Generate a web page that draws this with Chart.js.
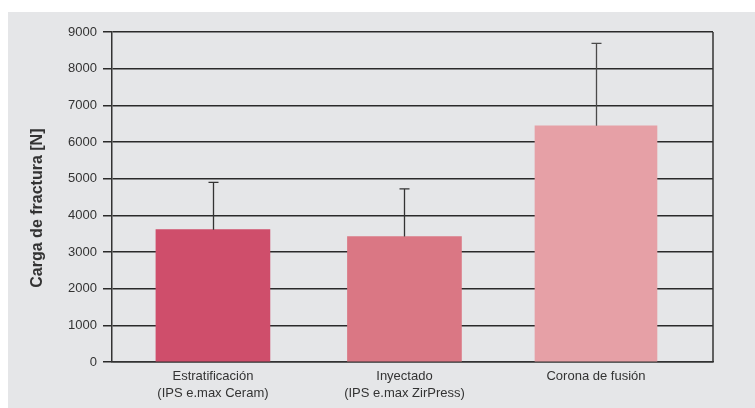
<!DOCTYPE html>
<html>
<head>
<meta charset="utf-8">
<script src="https://cdn.jsdelivr.net/npm/chart.js@4/dist/chart.umd.min.js"></script>
<style>
html,body{margin:0;padding:0;background:#fff;}
#wrap{position:absolute;left:0;top:0;width:755px;height:408px;}
</style>
</head>
<body>
<div id="wrap"><canvas id="c" width="755" height="408"></canvas></div>
<script>
// ---- data ----
const categories = [
  ["Estratificación", "(IPS e.max Ceram)"],
  ["Inyectado", "(IPS e.max ZirPress)"],
  ["Corona de fusión"]
];
const meanLoad = [3610, 3420, 6440];
const sdLoad = [1290, 1300, 2250];
const yTicks = [0, 1000, 2000, 3000, 4000, 5000, 6000, 7000, 8000, 9000];
const yTitle = "Carga de fractura [N]";

// ---- styles ----
const barColors = ["#cf4e6b", "#da7784", "#e6a0a6"];
const barWidths = [114, 114, 122];
const FONT = "'Liberation Sans', Arial, sans-serif";

const bgPlugin = {
  id: 'bg',
  beforeDraw(chart) {
    const ctx = chart.ctx;
    ctx.save();
    ctx.fillStyle = '#e5e6e8';
    ctx.fillRect(8, 12, chart.width - 8, chart.height - 12);
    ctx.restore();
  },
  afterDatasetsDraw(chart) {
    const ctx = chart.ctx;
    const xs = chart.scales.x, ys = chart.scales.y;
    const ca = chart.chartArea;
    ctx.save();
    ctx.strokeStyle = '#333';
    ctx.lineWidth = 1.5;
    ctx.beginPath();
    ctx.moveTo(ca.right, ca.top);
    ctx.lineTo(ca.right, ca.bottom);
    ctx.stroke();
    ctx.lineWidth = 1.3;
    meanLoad.forEach((m, i) => {
      const x = Math.round(xs.getPixelForValue(i)) + 0.5;
      const y0 = ys.getPixelForValue(m);
      const y1 = ys.getPixelForValue(m + sdLoad[i]);
      ctx.strokeStyle = i === 2 ? '#4a4a4a' : '#333';
      ctx.beginPath();
      ctx.moveTo(x, y0);
      ctx.lineTo(x, y1);
      ctx.moveTo(x - 5, y1);
      ctx.lineTo(x + 5, y1);
      ctx.stroke();
    });
    ctx.restore();
  }
};

const datasets = categories.map((c, i) => ({
  data: [{x: i, y: meanLoad[i]}],
  backgroundColor: barColors[i],
  barThickness: barWidths[i],
  grouped: false
}));

new Chart(document.getElementById('c'), {
  type: 'bar',
  data: { datasets },
  plugins: [bgPlugin],
  options: {
    responsive: false,
    animation: false,
    devicePixelRatio: 1,
    layout: { padding: { left: 28, top: 32, right: 42, bottom: 0 } },
    plugins: { legend: { display: false }, tooltip: { enabled: false } },
    scales: {
      x: {
        type: 'linear',
        offset: false,
        min: -0.527,
        max: 2.611,
        afterBuildTicks(scale) { scale.ticks = [0, 1, 2].map(v => ({ value: v })); },
        afterFit(scale) { scale.height = 46; },
        grid: { display: false, offset: false, drawTicks: false },
        border: { display: true, color: '#333', width: 1.5 },
        ticks: {
          autoSkip: false,
          maxRotation: 0,
          padding: 5,
          color: '#333',
          font: { family: FONT, size: 13, lineHeight: 1.38 },
          callback: (v) => categories[v]
        }
      },
      y: {
        min: 0,
        max: 9000,
        afterBuildTicks(scale) { scale.ticks = yTicks.map(v => ({ value: v })); },
        afterFit(scale) { scale.width = 84; },
        grid: { color: '#2a2a2a', lineWidth: 1.5, tickLength: 9, drawTicks: true },
        border: { display: true, color: '#333', width: 1.5 },
        ticks: {
          padding: 6,
          color: '#333',
          font: { family: FONT, size: 13 },
          callback: (v) => String(v)
        },
        title: {
          display: true,
          text: yTitle + "     ",
          color: '#333',
          font: { family: FONT, size: 16, weight: 'bold' },
          padding: { top: 0, bottom: 0 }
        }
      }
    }
  }
});
</script>
</body>
</html>
